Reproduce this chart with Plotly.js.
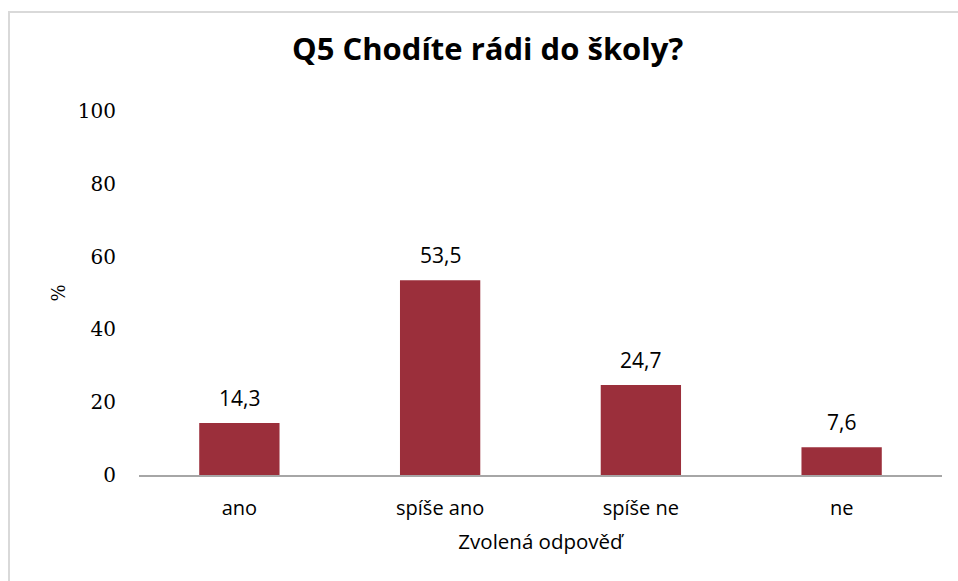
<!DOCTYPE html>
<html>
<head>
<meta charset="utf-8">
<script src="https://cdn.plot.ly/plotly-3.0.1.min.js"></script>
<style>html,body{margin:0;padding:0;background:#fff;}#chart{width:958px;height:581px;}</style>
</head>
<body>
<div id="chart"></div>
<script>
const categories = ["ano", "spíše ano", "spíše ne", "ne"];
const values = [14.3, 53.5, 24.7, 7.6];
const tickValues = [0, 20, 40, 60, 80, 100];

const fmt = v => v.toFixed(1).replace('.', ',');
const SANS = '"Open Sans", sans-serif';
const SERIF = '"DejaVu Serif", serif';

const trace = {
  type: 'bar',
  x: categories,
  y: values,
  marker: {color: '#9B2F3B', line: {width: 0}},
  hoverinfo: 'none'
};

const annotations = categories.map((c, i) => ({
  x: c, y: values[i], xref: 'x', yref: 'y',
  text: fmt(values[i]), showarrow: false,
  yanchor: 'middle', yshift: 25,
  font: {family: SANS, size: 21, color: '#000'}
}));

const layout = {
  width: 958, height: 581,
  margin: {l: 139, r: 16, t: 111, b: 106},
  paper_bgcolor: '#fff', plot_bgcolor: '#fff',
  separators: ', ',
  bargap: 0.6,
  showlegend: false,
  title: {
    text: 'Q5 Chodíte rádi do školy?',
    font: {family: SANS, size: 31, color: '#000', weight: 'bold'},
    xref: 'container', x: 0.509, xanchor: 'center',
    yref: 'container', y: 1 - 49/581, yanchor: 'middle'
  },
  xaxis: {
    type: 'category',
    showgrid: false, zeroline: false,
    showline: true, linecolor: '#A6A6A6', linewidth: 1.5,
    ticks: '', ticklabelstandoff: 14,
    tickfont: {family: SANS, size: 20, color: '#000'},
    title: {text: 'Zvolená odpověď', standoff: 15,
      font: {family: SANS, size: 20.5, color: '#000'}}
  },
  yaxis: {
    range: [0, 100], tickvals: tickValues,
    showgrid: false, zeroline: false, showline: false,
    ticks: '', ticklabelstandoff: 22,
    tickfont: {family: SERIF, size: 20, color: '#000'},
    title: {text: '%', standoff: 7,
      font: {family: SERIF, size: 18, color: '#000'}}
  },
  annotations: annotations,
  shapes: [{
    type: 'rect', xref: 'paper', yref: 'paper',
    x0: (9 - 139) / 803, x1: 1.5, y0: -1.5, y1: (475 - 12) / 364,
    line: {color: '#D9D9D9', width: 2}, layer: 'below'
  }]
};

Plotly.newPlot('chart', [trace], layout, {displayModeBar: false, staticPlot: true});
</script>
</body>
</html>
